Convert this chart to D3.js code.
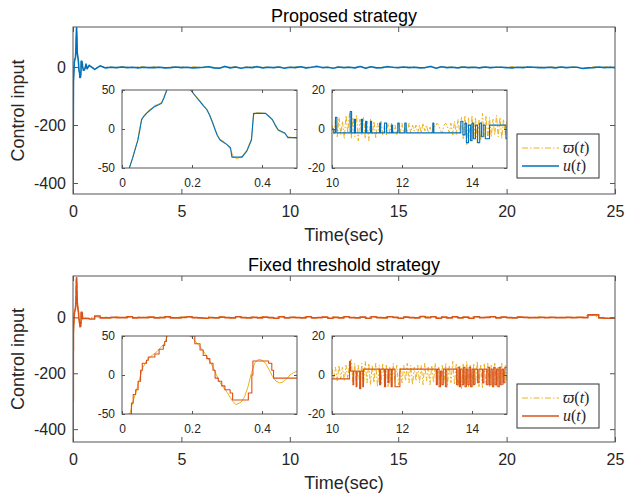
<!DOCTYPE html>
<html>
<head>
<meta charset="utf-8">
<script src="https://cdn.jsdelivr.net/npm/d3@7"></script>
<style>
  body { margin: 0; background: #fff; }
  svg { display: block; }
</style>
</head>
<body>
<div id="chart"></div>
<script>
// ---- ticks ----
const mainXTicks = [0, 5, 10, 15, 20, 25]
const mainYTicks = [-400, -200, 0]
const zoomAXTicks = [0, 0.2, 0.4]
const zoomAYTicks = [-50, 0, 50]
const zoomBXTicks = [10, 12, 14]
const zoomBYTicks = [-20, 0, 20]

// ---- proposed strategy: start-up transient [t, value] ----
const propUStart = [[0, -420], [0.01, -250], [0.021, -50], [0.03, -38], [0.037, -27], [0.045, -15], [0.051, -1],
  [0.056, 12], [0.062, 16], [0.07, 20], [0.08, 24], [0.094, 29], [0.105, 31], [0.113, 33], [0.12, 40],
  [0.128, 50], [0.145, 100], [0.165, 135], [0.18, 105], [0.196, 50], [0.21, 42], [0.223, 35], [0.232, 30],
  [0.242, 25], [0.25, 18], [0.258, 9], [0.266, -1], [0.272, -8], [0.28, -14], [0.29, -17], [0.3, -20],
  [0.31, -24], [0.314, -36], [0.343, -36], [0.357, -28], [0.37, -14], [0.376, 20], [0.41, 20], [0.42, 16],
  [0.43, 12], [0.438, 5], [0.446, -1], [0.465, -5], [0.474, -11], [0.5, -11],
  [0.55, -6], [0.6, 10], [0.65, -6]]
const propWStart = [[0, -420], [0.01, -250], [0.021, -50], [0.03, -37], [0.037, -26], [0.045, -14], [0.05, 0],
  [0.056, 12], [0.062, 17], [0.07, 21], [0.08, 25], [0.094, 30], [0.105, 32], [0.113, 34], [0.12, 41],
  [0.128, 50], [0.145, 100], [0.165, 134], [0.18, 104], [0.196, 50], [0.21, 43], [0.223, 36], [0.232, 31],
  [0.242, 26], [0.25, 19], [0.258, 10], [0.266, 0], [0.272, -7], [0.28, -13], [0.29, -16], [0.3, -20],
  [0.31, -26], [0.318, -36], [0.33, -38], [0.343, -35], [0.357, -27], [0.37, -12], [0.376, 18], [0.385, 21],
  [0.41, 20], [0.42, 17], [0.43, 11], [0.438, 4], [0.446, -2], [0.465, -6], [0.474, -10], [0.5, -12],
  [0.55, -4], [0.6, 8], [0.65, -5]]

// values every 0.25 s from 0.75 s to 25 s
const propUTail = [6, -8, 4, -3, -1, -2, 0, -2, -1, -3,
  -1, -2, -2, -1, -3, -2, 0, -2, -1, -3,
  -2, -1, 1, -3, -4, 2, -3, 0, -4, -1,
  -2, 1, -3, -1, -2, 0, -4, -1, -2, 1,
  -3, -1, 2, -2, -1, -4, 0, -2, -1, -3,
  2, -4, 1, -3, -2, 1, -1, -2, 0, -2,
  -1, -3, -2, 2, -4, 1, -2, -1, -3, 0,
  -2, -1, -3, 0, -2, -1, -1, -2, -3, -1,
  -2, 0, -1, -2, -2, -1, -3, 0, -2, -1,
  -1, -5, -3, -2, 0, -2, -1, -2]
const propWTail = [3, -5, 2, -1, 1, -4, 2, 0, -3, 2,
  1, -3, 2, 0, -4, 1, -1, 2, -3, 1,
  0, -3, 3, -2, -5, 3, -1, 2, -4, 1,
  0, 3, -2, 1, -3, 2, -3, 1, 0, 3,
  -4, 1, 4, -3, 0, -5, 2, -1, 1, -4,
  3, -3, 2, -2, -1, 3, 0, -3, 2, -1,
  1, -2, -1, 3, -3, 2, -1, 1, -2, 2,
  -1, 1, -2, 2, -3, 1, 0, -3, 2, -1,
  0, 2, -2, 1, -3, 2, -1, 1, -3, 1,
  0, -4, -2, 1, -1, 0, 2, -1]

// zoom 10..15 s: w every 0.05 s, u as switching events [t, value]
const propWZoom = [2, -3, 5, -4, 6, -3, 4, -5, 7, -2,
  8, -5, 6, -4, 7, -6, 5, -3, 6, -5,
  4, -6, 5, -3, 4, -5, 3, -2, 4, -3,
  2, -3, 3, -2, 3, -2, 2, -3, 3, -2,
  3, -2, 2, -2, 3, -2, 2, -1, 2, -2,
  2, -2, 3, -1, 2, -2, 1, -2, 2, 1,
  3, 2, -1, -2, 2, 3, 1, -2, 3, -3,
  4, -3, 5, -2, 6, -5, 7, -8, 6, -6,
  7, -5, 6, -7, 5, -6, 8, -4, 7, -5,
  6, -4, 5, -3, 7, -4, 6, -5, 5, -3, 4]
const propUZoom = [[10, 0], [10.05, -2], [10.1, 6], [10.14, -2], [10.52, 9], [10.56, -2], [10.64, 5], [10.67, -2],
  [10.84, 5], [10.87, -2], [10.96, 4], [10.99, -2], [11.1, 4], [11.13, -2], [11.36, 3], [11.39, -2],
  [11.5, 3], [11.56, -2], [11.7, 2], [11.73, -2], [11.88, 3], [11.92, -2], [12.08, 3], [12.12, -2],
  [12.88, 3], [12.91, -2], [13.68, 4], [13.74, -3], [13.8, 3], [13.84, -7], [13.9, 2], [13.96, -6],
  [14.0, 3], [14.04, -5], [14.1, 2], [14.16, -7], [14.22, 3], [14.27, -4], [14.32, 2], [14.38, -5],
  [14.5, 2], [14.97, -5], [15, -5]]

// ---- fixed threshold strategy ----
const fixUStart = [[0, -440], [0.008, -300], [0.014, -120], [0.02, -50], [0.027, -36], [0.032, -25], [0.039, -19],
  [0.046, -8], [0.053, 6], [0.058, 15], [0.07, 19], [0.075, 23], [0.094, 27], [0.106, 33], [0.118, 38],
  [0.122, 43], [0.127, 52], [0.135, 75], [0.143, 110], [0.152, 135], [0.162, 142], [0.172, 125], [0.18, 95],
  [0.188, 70], [0.194, 50], [0.208, 40], [0.223, 32], [0.232, 25], [0.242, 21], [0.251, 15], [0.26, 6],
  [0.266, -4], [0.275, -8], [0.285, -14], [0.294, -19], [0.309, -23], [0.316, -32], [0.361, -23], [0.371, 0],
  [0.374, 18], [0.419, 15], [0.428, 6], [0.433, -4], [0.6, -4]]
const fixWStart = [[0, -440], [0.01, -260], [0.02, -55], [0.03, -36], [0.04, -22], [0.05, -5], [0.06, 10],
  [0.07, 18], [0.08, 23], [0.1, 30], [0.12, 40], [0.13, 50], [0.145, 100], [0.16, 138], [0.175, 120],
  [0.19, 65], [0.2, 48], [0.22, 38], [0.24, 26], [0.26, 10], [0.28, -10], [0.3, -22], [0.315, -33],
  [0.325, -38], [0.34, -35], [0.35, -28], [0.36, -15], [0.37, 3], [0.38, 16], [0.39, 20], [0.4, 19],
  [0.41, 15], [0.42, 7], [0.43, -2], [0.44, -8], [0.45, -10], [0.46, -9], [0.47, -5], [0.48, 0],
  [0.49, 3], [0.5, 5], [0.6, -3]]
const fixUTail = [-6, 5, -2, -2, 0, -1, -1, 2, -2, -1,
  -1, 1, -2, -1, 2, -2, -2, 0, 2, -1,
  -2, -3, -1, -2, 1, -1, -2, 2, -1, -2,
  0, -2, 1, -1, -3, 2, -2, 0, -1, -2,
  2, -2, -1, 1, -3, 0, -2, 2, -1, -2,
  1, -3, 2, -1, -2, 2, 0, -3, 1, -1,
  -2, 3, -1, 2, -3, 1, -2, 2, -2, 1,
  -3, 2, -1, 0, 2, -2, 1, -1, -2, 1,
  0, -1, -1, 0, -1, 0, -1, -1, 0, -1,
  0, -1, 9, 9, -2, -3, -3, -3]
const fixWTail = [-3, 3, -1, 1, -2, 2, -1, 3, -3, 1,
  0, 2, -3, 1, 3, -2, -1, 2, 3, -2,
  -1, -2, 2, -3, 2, 0, -3, 3, 1, -3,
  2, -1, 3, -2, -2, 3, 0, -1, 2, -3,
  3, -1, -2, 2, -2, 2, -3, 3, 0, -1,
  2, -2, 3, 0, -3, 3, 1, -2, 2, 0,
  -3, 2, 1, 3, -2, 2, -3, 3, -1, 2,
  -2, 3, 0, -1, 3, -3, 2, 0, -3, 2,
  1, -2, 0, 2, -2, 1, -2, 0, 1, -2,
  1, 0, 8, 9, -1, -2, -2, -3]
const fixWZoom = [3, -2, 4, -3, 5, -2, 4, -3, 5, -2,
  6, 8, -5, 6, -6, 5, -7, 6, -5, 7,
  -4, 6, -5, 5, -4, 6, -6, 5, -5, 6,
  -4, 5, -6, 4, -5, 6, -4, 5, -5, 4,
  -4, 5, -3, 6, -4, 5, -5, 4, -3, 5,
  -4, 5, -5, 6, -3, 4, -5, 5, -4, 6,
  -5, 4, -6, 5, -4, 6, -5, 5, -4, 7,
  -5, 6, -6, 5, -7, 6, -5, 7, -6, 5,
  -6, 6, -5, 7, -6, 5, -7, 6, -5, 6,
  -6, 5, -5, 6, -6, 4, -5, 6, -5, 5, -4]
const fixUZoom = [[10, -2], [10.5, 7], [10.53, 2], [10.6, -5], [10.62, 2], [10.69, -6], [10.71, 2], [10.79, -7],
  [10.82, 2], [10.88, -6], [10.9, 3], [11.36, -5], [11.39, 3], [11.5, -6], [11.53, 3], [11.6, -4], [11.63, 3],
  [11.69, -6], [11.72, 3], [11.8, -6], [11.94, 3], [12.98, -5], [13.01, 3], [13.06, -6], [13.1, 2],
  [13.14, -5], [13.18, 3], [13.24, -6], [13.28, 3], [13.56, -5], [13.6, 4], [13.64, -6], [13.67, 3],
  [13.72, -5], [13.76, 4], [13.8, -6], [13.84, 3], [13.88, -5], [13.92, 4], [13.96, -6], [14.0, 3],
  [14.04, -5], [14.08, 3], [14.16, -4], [14.2, 3], [14.3, -4], [14.34, 3], [14.42, -5], [14.46, 4],
  [14.5, -5], [14.54, 3], [14.58, -6], [14.62, 4], [14.66, -5], [14.7, 3], [14.74, -6], [14.78, 4],
  [14.82, -5], [14.86, 3], [14.9, -4], [14.94, 4], [15, 4]]

const W_COLOR = '#EDB120'
const BLUE = '#0072BD'
const RED = '#D95319'
const FONT = 'Arial, "Liberation Sans", Helvetica, sans-serif'
const TXT = '#262626'
const DASH = '5,2,1.5,2'

const svg = d3.select('#chart').append('svg').attr('width', 636).attr('height', 494)

// tail values sit on a fixed time grid
const withTimes = (vals, t0, dt) => vals.map((v, i) => [t0 + i * dt, v])
const plain = d => String(d)

function styleAxis(sel, size) {
  sel.select('.domain').remove()
  sel.selectAll('line').attr('stroke', '#555').attr('stroke-width', 1)
  sel.selectAll('text').attr('fill', TXT).style('font-family', FONT).style('font-size', size + 'px')
}

function boxAxes(g, x, y, xt, yt, tick, size, padX, padY) {
  const [x0, x1] = x.range()
  const [y1, y0] = y.range()
  g.append('g').attr('transform', `translate(0,${y1})`)
    .call(d3.axisBottom(x).tickValues(xt).tickSize(-tick).tickPadding(padX).tickFormat(plain))
    .call(s => styleAxis(s, size))
  g.append('g').attr('transform', `translate(0,${y0})`)
    .call(d3.axisTop(x).tickValues(xt).tickSize(-tick).tickFormat(''))
    .call(s => styleAxis(s, size))
  g.append('g').attr('transform', `translate(${x0},0)`)
    .call(d3.axisLeft(y).tickValues(yt).tickSize(-tick).tickPadding(padY).tickFormat(plain))
    .call(s => styleAxis(s, size))
  g.append('g').attr('transform', `translate(${x1},0)`)
    .call(d3.axisRight(y).tickValues(yt).tickSize(-tick).tickFormat(''))
    .call(s => styleAxis(s, size))
  g.append('rect')
    .attr('x', x0).attr('y', y0).attr('width', x1 - x0).attr('height', y1 - y0)
    .attr('fill', 'none').attr('stroke', '#555').attr('stroke-width', 1)
}

function drawLines(g, x, y, series, clipId) {
  series.forEach(s => {
    const line = d3.line().x(d => x(d[0])).y(d => y(d[1])).curve(s.step ? d3.curveStepAfter : d3.curveLinear)
    g.append('path')
      .datum(s.data)
      .attr('clip-path', `url(#${clipId})`)
      .attr('d', line)
      .attr('fill', 'none')
      .attr('stroke', s.color)
      .attr('stroke-width', s.width)
      .attr('stroke-dasharray', s.dash ? DASH : null)
      .attr('stroke-linejoin', 'round')
  })
}

function addClip(id, x0, y0, w, h) {
  svg.append('clipPath').attr('id', id)
    .append('rect').attr('x', x0).attr('y', y0).attr('width', w).attr('height', h)
}

function inset(g, box, xDom, yDom, xt, yt, series, id) {
  const x = d3.scaleLinear().domain(xDom).range([box.x, box.x + box.w])
  const y = d3.scaleLinear().domain(yDom).range([box.y + box.h, box.y])
  g.append('rect').attr('x', box.x).attr('y', box.y).attr('width', box.w).attr('height', box.h).attr('fill', '#fff')
  addClip(id, box.x, box.y, box.w, box.h)
  drawLines(g, x, y, series, id)
  boxAxes(g, x, y, xt, yt, 3, 12, 10, 7)
}

function legend(g, x0, y0, color) {
  g.append('rect').attr('x', x0).attr('y', y0).attr('width', 82).attr('height', 44)
    .attr('fill', '#fff').attr('stroke', '#333').attr('stroke-width', 1)
  const rows = [{ c: W_COLOR, dash: true, sym: '\u03D6', w: 1.2 }, { c: color, dash: false, sym: 'u', w: 1.6 }]
  rows.forEach((r, i) => {
    const yy = y0 + 14 + i * 18
    g.append('line').attr('x1', x0 + 5).attr('x2', x0 + 42).attr('y1', yy).attr('y2', yy)
      .attr('stroke', r.c).attr('stroke-width', r.w).attr('stroke-dasharray', r.dash ? '6,2,1.5,2' : null)
    const t = g.append('text').attr('x', x0 + 46).attr('y', yy + 5)
      .style('font-family', '"Liberation Serif", "DejaVu Serif", serif').style('font-size', '16px').attr('fill', TXT)
    t.append('tspan').style('font-style', 'italic').text(r.sym)
    t.append('tspan').text('(')
    t.append('tspan').style('font-style', 'italic').text('t')
    t.append('tspan').text(')')
  })
}

function panel(cfg) {
  const g = svg.append('g')
  const x = d3.scaleLinear().domain([0, 25]).range([73, 615])
  const y = d3.scaleLinear().domain(cfg.yDomain).range([cfg.bottom, cfg.top])

  const uMain = cfg.uStart.concat(withTimes(cfg.uTail, 0.75, 0.25))
  const wMain = cfg.wStart.concat(withTimes(cfg.wTail, 0.75, 0.25))

  addClip(cfg.id + 'main', 73, cfg.top, 542, cfg.bottom - cfg.top)
  drawLines(g, x, y, [
    { data: wMain, color: W_COLOR, width: 1, dash: true },
    { data: uMain, color: cfg.color, width: 1.6, step: cfg.step }
  ], cfg.id + 'main')
  boxAxes(g, x, y, mainXTicks, mainYTicks, 5, 16, 12, 7)

  // title and labels
  g.append('text').attr('x', 344).attr('y', cfg.top - 5).attr('text-anchor', 'middle')
    .style('font-family', FONT).style('font-size', '18px').attr('fill', '#000').text(cfg.title)
  g.append('text').attr('x', 344).attr('y', cfg.bottom + 47).attr('text-anchor', 'middle')
    .style('font-family', FONT).style('font-size', '18px').attr('fill', TXT).text('Time(sec)')
  g.append('text').attr('transform', `translate(24,${(cfg.top + cfg.bottom) / 2}) rotate(-90)`)
    .attr('text-anchor', 'middle')
    .style('font-family', FONT).style('font-size', '18px').attr('fill', TXT).text('Control input')

  // zoomed views
  const iy = cfg.insetTop
  inset(g, { x: 122, y: iy, w: 175, h: 78 }, [0, 0.5], [-50, 50], zoomAXTicks, zoomAYTicks, [
    { data: cfg.wStart, color: W_COLOR, width: 1, dash: false },
    { data: cfg.uStart, color: cfg.color, width: 1.1, step: cfg.step }
  ], cfg.id + 'a')
  inset(g, { x: 332, y: iy, w: 175, h: 78 }, [10, 15], [-20, 20], zoomBXTicks, zoomBYTicks, [
    { data: withTimes(cfg.wZoom, 10, 0.05), color: W_COLOR, width: 1, dash: true },
    { data: cfg.uZoom, color: cfg.color, width: 1.1, step: true }
  ], cfg.id + 'b')

  legend(g, 517, cfg.legendTop, cfg.color)
}

panel({
  id: 'p', title: 'Proposed strategy', top: 27, bottom: 194, yDomain: [-438, 138],
  color: BLUE, step: false, insetTop: 90, legendTop: 134,
  uStart: propUStart, wStart: propWStart, uTail: propUTail, wTail: propWTail,
  uZoom: propUZoom, wZoom: propWZoom
})
panel({
  id: 'f', title: 'Fixed threshold strategy', top: 276, bottom: 442, yDomain: [-446, 148],
  color: RED, step: true, insetTop: 336, legendTop: 384,
  uStart: fixUStart, wStart: fixWStart, uTail: fixUTail, wTail: fixWTail,
  uZoom: fixUZoom, wZoom: fixWZoom
})
</script>
</body>
</html>
